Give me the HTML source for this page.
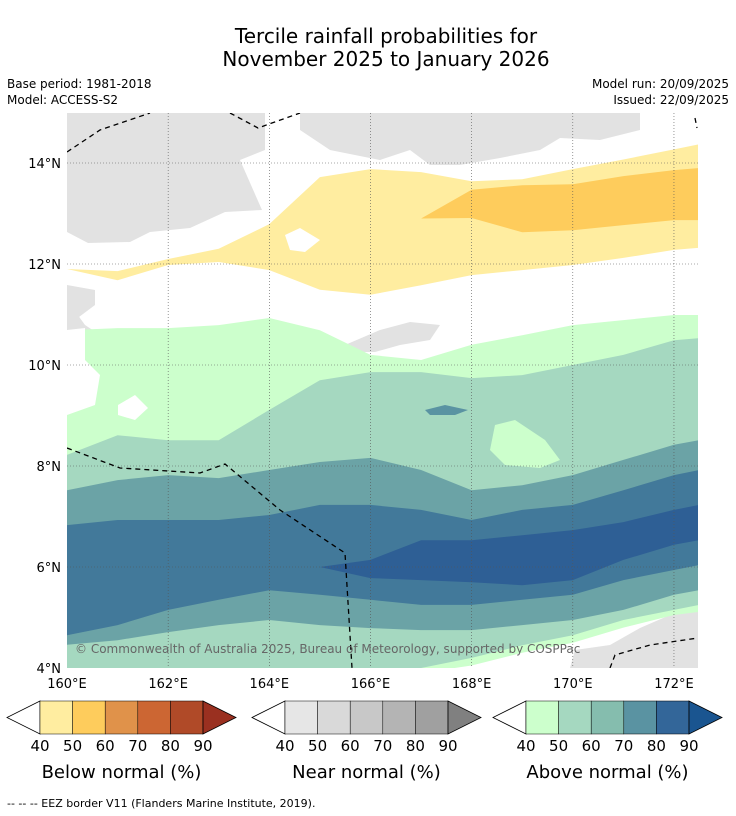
<!DOCTYPE html>
<html><head><meta charset="utf-8"><style>
body{margin:0;background:#fff;font-family:"Liberation Sans","DejaVu Sans",sans-serif}
svg{display:block}
text{font-family:"DejaVu Sans","Liberation Sans",sans-serif}
</style></head><body>
<svg id="chart" width="736" height="816" viewBox="0 0 736 816">
<text x="386" y="43" font-size="20" text-anchor="middle">Tercile rainfall probabilities for</text>
<text x="386" y="66" font-size="20" text-anchor="middle">November 2025 to January 2026</text>
<text x="7" y="88" font-size="12">Base period: 1981-2018</text>
<text x="7" y="104" font-size="12">Model: ACCESS-S2</text>
<text x="729" y="88" font-size="12" text-anchor="end">Model run: 20/09/2025</text>
<text x="729" y="104" font-size="12" text-anchor="end">Issued: 22/09/2025</text>
<defs><clipPath id="mapclip"><rect x="67" y="113" width="631" height="555"/></clipPath></defs>
<g id="map" clip-path="url(#mapclip)"></g>
<g id="axes"></g>
<g id="legends"></g>
<text x="7" y="807" font-size="11">--  --  -- EEZ border V11 (Flanders Marine Institute, 2019).</text>
</svg>
<script>
const lons=[160,161,162,163,164,165,166,167,168,169,170,171,172,172.5];
const green40N=[10.69,10.73,10.73,10.79,10.93,10.69,10.20,10.10,10.40,10.59,10.79,10.89,10.99,10.99];
const green50N=[8.22,8.61,8.51,8.51,9.11,9.70,9.86,9.86,9.74,9.80,10.00,10.20,10.49,10.53];
const green60N=[7.52,7.72,7.82,7.76,7.92,8.08,8.16,7.92,7.52,7.62,7.82,8.12,8.42,8.51];
const green70N=[6.83,6.93,6.93,6.93,7.03,7.23,7.23,7.13,6.93,7.13,7.23,7.52,7.82,7.92];
const green80N=[6.0,6.0,6.0,6.0,6.0,6.0,6.14,6.53,6.53,6.63,6.73,6.89,7.13,7.23];
const green80S=[6.0,6.0,6.0,6.0,6.0,6.0,5.78,5.74,5.70,5.64,5.74,6.14,6.44,6.53];
const green70S=[4.65,4.85,5.15,5.35,5.54,5.45,5.35,5.25,5.25,5.35,5.45,5.74,5.94,6.04];
const green60S=[4.46,4.55,4.71,4.85,4.95,4.85,4.79,4.75,4.75,4.85,4.95,5.15,5.45,5.54];
const green50S=[3.9,3.9,3.9,3.9,3.9,3.9,3.9,4.0,4.2,4.45,4.65,4.95,5.15,5.25];
const green40S=[3.9,3.9,3.9,3.9,3.9,3.9,3.9,3.9,4.05,4.3,4.5,4.8,5.05,5.11];
const yellow40N=[11.9,11.86,12.10,12.30,12.79,13.72,13.88,13.82,13.64,13.68,13.88,14.07,14.27,14.37];
const yellow40S=[11.9,11.68,11.98,12.04,11.88,11.49,11.39,11.58,11.78,11.88,11.98,12.12,12.28,12.32];
const yellow50N=[12.9,12.9,12.9,12.9,12.9,12.9,12.9,12.9,13.47,13.56,13.58,13.74,13.86,13.90];
const yellow50S=[12.9,12.9,12.9,12.9,12.9,12.9,12.9,12.9,12.91,12.63,12.67,12.77,12.87,12.87];
const lonTicks=[160,162,164,166,168,170,172];
const latTicks=[4,6,8,10,12,14];
const legendTicks=[40,50,60,70,80,90];
const belowColors=['#ffeda0','#fecc5c','#e0924a','#cc6633','#b04a28','#9a3020'];
const nearColors=['#e6e6e6','#d9d9d9','#c8c8c8','#b4b4b4','#a0a0a0','#808080'];
const aboveColors=['#ccffcc','#a5d8c0','#85bdae','#5a93a2','#336699','#1a5590'];

const NS='http://www.w3.org/2000/svg';
const X=lon=>67+(lon-160)*50.58;
const Y=lat=>163+(14-lat)*50.5;
function mk(tag,attrs,parent){const e=document.createElementNS(NS,tag);for(const k in attrs)e.setAttribute(k,attrs[k]);parent.appendChild(e);return e;}
const map=document.getElementById('map'),axes=document.getElementById('axes'),leg=document.getElementById('legends');
function band(N,S,color,name){
  let d='';
  lons.forEach((l,i)=>{d+=(i?'L':'M')+X(l).toFixed(1)+','+Y(N[i]).toFixed(1);});
  for(let i=lons.length-1;i>=0;i--)d+='L'+X(lons[i]).toFixed(1)+','+Y(S[i]).toFixed(1);
  const p=mk('path',{d:d+'Z',fill:color},map);
  
  
}
const grays=['M67,113L265,113L265,150L240,160L262,210L225,212L190,228L150,232L130,242L88,243L67,232Z','M300,113L640,113L640,130L600,140L560,138L540,150L500,158L460,165L430,165L410,150L380,160L330,150L300,130Z','M67,285L95,290L95,305L75,320L67,318Z','M345,345L380,330L410,322L440,325L430,340L400,345L375,352L350,352Z','M570,668L575,650L610,645L640,628L670,615L698,600L698,668Z','M67,300L67,360L100,375L115,360L100,335L85,325Z'];
grays.forEach(d=>{const p=mk('path',{d:d,fill:'#e2e2e2'},map);});
band(green40N,green40S,aboveColors[0],'above-normal-40-50');
band(green50N,green50S,aboveColors[1],'above-normal-50-60');
band(green60N,green60S,'#6ba3a6','above-normal-60-70');
band(green70N,green70S,'#42799a','above-normal-70-80');
band(green80N,green80S,'#2e5f95','above-normal-80-90');
band(yellow40N,yellow40S,belowColors[0],'below-normal-40-50');
band(yellow50N,yellow50S,belowColors[1],'below-normal-50-60');
let b=mk('path',{d:'M495,425L515,420L545,440L560,460L540,468L505,465L490,450Z',fill:aboveColors[0]},map);


b=mk('path',{d:'M67,330L85,328L85,360L100,375L95,405L67,415Z',fill:'#fff'},map);


b=mk('path',{d:'M118,405L135,395L148,408L135,420L118,415Z',fill:'#fff'},map);


b=mk('path',{d:'M285,235L300,228L320,240L305,252L290,250Z',fill:'#fff'},map);


b=mk('path',{d:'M425,410L445,405L468,410L455,415L430,415Z',fill:'#5a93a2'},map);


lonTicks.forEach(l=>{if(l>160){const g=mk('line',{x1:X(l),x2:X(l),y1:113,y2:668,stroke:'#555','stroke-width':0.6,'stroke-dasharray':'1,2'},map);}});
latTicks.forEach(l=>{if(l>4){const g=mk('line',{x1:67,x2:698,y1:Y(l),y2:Y(l),stroke:'#555','stroke-width':0.6,'stroke-dasharray':'1,2'},map);}});
['M67,152L100,130L150,113','M230,113L258,128L300,113','M67,448L120,468L200,473L225,464L280,510L345,553L352,668','M610,668L615,655L650,645L698,638','M695,118L697,128'].forEach(d=>{const p=mk('path',{d:d,fill:'none',stroke:'#000','stroke-width':1.3,'stroke-dasharray':'5,4'},map);});
let c=mk('text',{x:75,y:653,'font-size':12,fill:'#666'},map);c.textContent='© Commonwealth of Australia 2025, Bureau of Meteorology, supported by COSPPac';


lonTicks.forEach(l=>{const t=mk('text',{x:X(l),y:688,'font-size':13,'text-anchor':'middle'},axes);t.textContent=l+'°E';});
latTicks.forEach(l=>{const t=mk('text',{x:61,y:Y(l)+5,'font-size':13,'text-anchor':'end'},axes);t.textContent=l+'°N';});
function legend(x0,colors,label,name){
  const g=mk('g',{},leg);
  
  
  const w=32.6,top=701,h=33,mid=717.5;
  mk('path',{d:`M${x0+33},${top}L${x0},${mid}L${x0+33},${top+h}Z`,fill:'#fff',stroke:'#000','stroke-width':0.8},g);
  for(let i=0;i<5;i++)mk('rect',{x:x0+33+i*w,y:top,width:w,height:h,fill:colors[i],stroke:'#000','stroke-width':0.5},g);
  const xe=x0+33+5*w;
  mk('path',{d:`M${xe},${top}L${xe+33},${mid}L${xe},${top+h}Z`,fill:colors[5],stroke:'#000','stroke-width':0.8},g);
  legendTicks.forEach((v,i)=>{const t=mk('text',{x:x0+33+i*w,y:751,'font-size':15,'text-anchor':'middle'},g);t.textContent=v;});
  const t=mk('text',{x:x0+33+2.5*w,y:778,'font-size':18,'text-anchor':'middle'},g);t.textContent=label;
}
legend(7,belowColors,'Below normal (%)','below-normal-legend');
legend(252,nearColors,'Near normal (%)','near-normal-legend');
legend(493,aboveColors,'Above normal (%)','above-normal-legend');
</script>
</body></html>
